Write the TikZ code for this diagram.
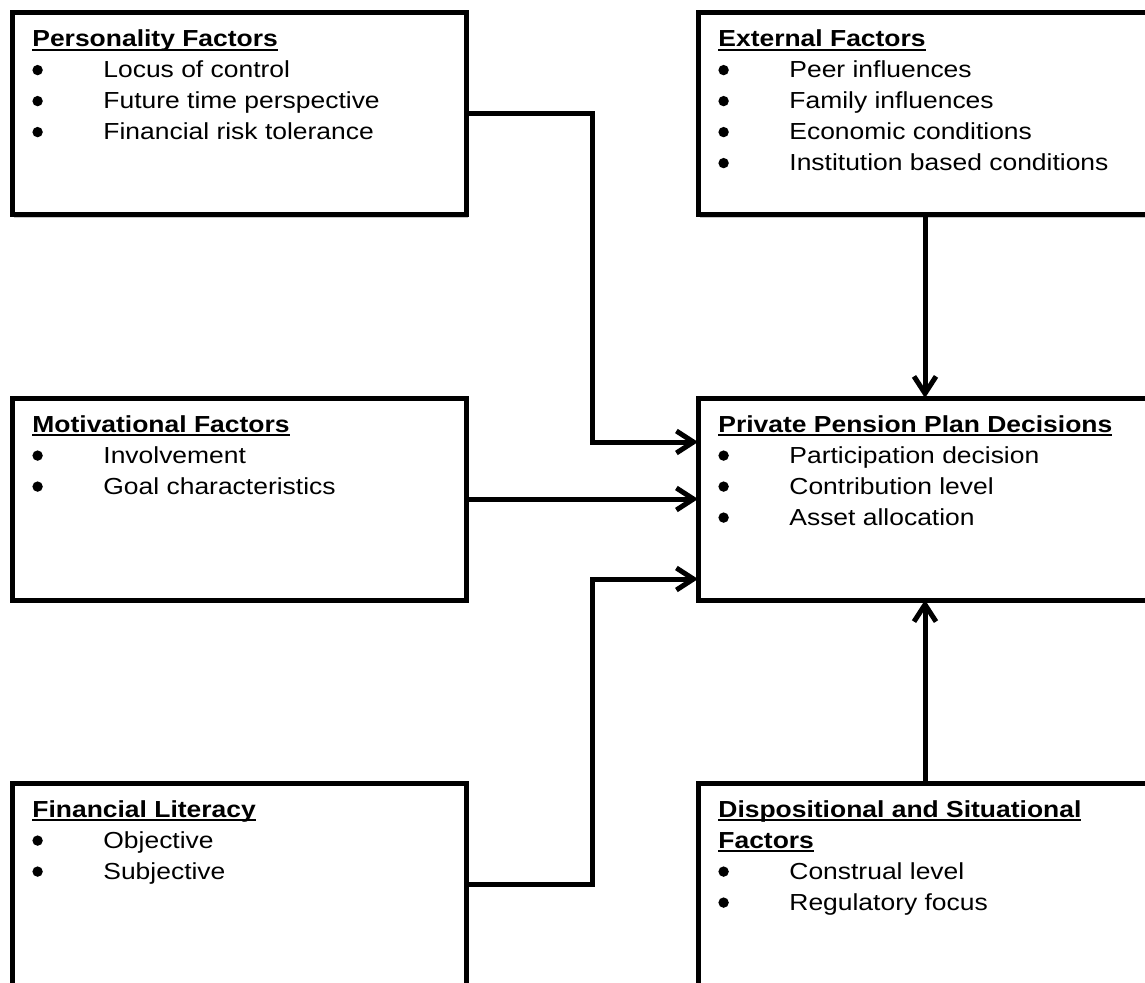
\documentclass[tikz,border=0pt]{standalone}
\usepackage{fontspec}
\setmainfont{Liberation Sans}[FakeStretch=1.14]
\usepackage{tikz}
\usetikzlibrary{arrows.meta,calc,positioning,shadows}

\newsavebox{\ttlbox}
\newcommand{\boxttl}[1]{\leavevmode\sbox{\ttlbox}{\bfseries #1}\rlap{\rule[-2.1pt]{\wd\ttlbox}{0.9pt}}\usebox{\ttlbox}}
\newcommand{\dotmark}{\tikz[baseline={(0,-3.7pt)}]\fill (0,0) circle (2.6pt);}
\newcommand{\bitem}[1]{\makebox[35.5pt][l]{\dotmark}#1}

\begin{document}
\begin{tikzpicture}[x=0.5pt,y=0.5pt,line width=2.5pt]
  \tikzset{factor/.style={draw,fill=white,minimum width=227pt,minimum height=101pt,inner sep=0pt,outer sep=0pt,
      drop shadow={shadow xshift=1pt,shadow yshift=-1.6pt,fill=black,opacity=0.22}},
    ftext/.style={anchor=base west,inner sep=0pt,font=\fontsize{11.6}{15.5}\selectfont},
    link/.style={-{Straight Barb[length=8.5pt,width=11pt]}}}
  \path[use as bounding box] (0,0) rectangle (1145,982);
  \clip (0,0) rectangle (1145,982);
  \node[factor] (pers) at (239,868.5) {};
  \node[factor] (ext) at (925,868.5) {};
  \node[factor] (motiv) at (239,483) {};
  \node[factor] (priv) at (925,483) {};
  \node[factor] (fin) at (239,98) {};
  \node[factor] (disp) at (925,98) {};
  \node[ftext] (perstxt) at ($(pers.north west)+(10pt,-17pt)$) {\parbox[t]{220pt}{\boxttl{Personality Factors}\\
    \bitem{Locus of control}\\ \bitem{Future time perspective}\\ \bitem{Financial risk tolerance}}};
  \node[ftext] (exttxt) at ($(ext.north west)+(10pt,-17pt)$) {\parbox[t]{220pt}{\boxttl{External Factors}\\
    \bitem{Peer influences}\\ \bitem{Family influences}\\ \bitem{Economic conditions}\\ \bitem{Institution based conditions}}};
  \node[ftext] (motivtxt) at ($(motiv.north west)+(10pt,-17pt)$) {\parbox[t]{220pt}{\boxttl{Motivational Factors}\\
    \bitem{Involvement}\\ \bitem{Goal characteristics}}};
  \node[ftext] (privtxt) at ($(priv.north west)+(10pt,-17pt)$) {\parbox[t]{220pt}{\boxttl{Private Pension Plan Decisions}\\
    \bitem{Participation decision}\\ \bitem{Contribution level}\\ \bitem{Asset allocation}}};
  \node[ftext] (fintxt) at ($(fin.north west)+(10pt,-17pt)$) {\parbox[t]{220pt}{\boxttl{Financial Literacy}\\
    \bitem{Objective}\\ \bitem{Subjective}}};
  \node[ftext] (disptxt) at ($(disp.north west)+(10pt,-17pt)$) {\parbox[t]{220pt}{\boxttl{Dispositional and Situational}\\
    \boxttl{Factors}\\ \bitem{Construal level}\\ \bitem{Regulatory focus}}};
  \coordinate (bendA) at (592,540);
  \coordinate (bendC) at (592,403);
  \draw[link] (pers.east) -| (bendA) -- (bendA -| priv.west);
  \draw[link] (motiv.east) -- (motiv.east -| priv.west);
  \draw[link] (fin.east) -| (bendC) -- (bendC -| priv.west);
  \draw[link] (ext.south) -- (priv.north);
  \draw[link] (disp.north) -- (priv.south);
\end{tikzpicture}
\end{document}
